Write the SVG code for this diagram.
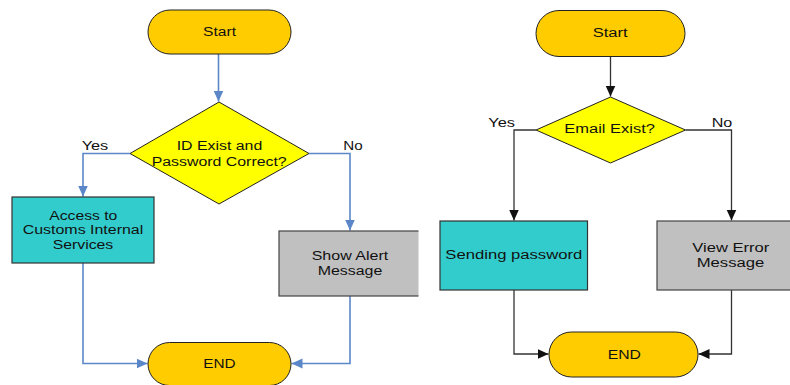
<svg xmlns="http://www.w3.org/2000/svg" width="790" height="385" viewBox="0 0 790 385">
  <style>
    .term { fill: #FFCC00; stroke: #222; stroke-width: 1; }
    .dec { fill: #FFFF00; stroke: #222; stroke-width: 1; }
    .proc-ok { fill: #33CCCC; stroke: #333; stroke-width: 1.2; }
    .proc-err { fill: #C0C0C0; stroke: #444; stroke-width: 1.2; }
    .lbl { font-family: "Liberation Sans", Arial, sans-serif; font-size: 12.5px; fill: #111; }
    .blue { fill: none; stroke: #5B87C9; stroke-width: 1.6; }
    .dark { fill: none; stroke: #333; stroke-width: 1.3; }
  </style>
  <defs>
    <marker id="arrBlue" markerUnits="userSpaceOnUse" markerWidth="12" markerHeight="12" viewBox="0 0 12 12" refX="11" refY="6" orient="auto">
      <path d="M0,1 L11,6 L0,11 Z" fill="#5B87C9"/>
    </marker>
    <marker id="arrDark" markerUnits="userSpaceOnUse" markerWidth="12" markerHeight="12" viewBox="0 0 12 12" refX="11" refY="6" orient="auto">
      <path d="M0,1 L11,6 L0,11 Z" fill="#111"/>
    </marker>
    <clipPath id="leftPanel">
      <rect x="0" y="0" width="418.5" height="385"/>
    </clipPath>
  </defs>

  <!-- Login flow connectors -->
  <g id="connectors-login">
    <path class="blue" d="M218.5,54 L218.5,101.5" marker-end="url(#arrBlue)"/>
    <path class="blue" d="M130,153.5 L83,153.5 L83,196.5" marker-end="url(#arrBlue)"/>
    <path class="blue" d="M309,153.5 L350,153.5 L350,230.5" marker-end="url(#arrBlue)"/>
    <path class="blue" d="M83,263 L83,363.5 L147.5,363.5" marker-end="url(#arrBlue)"/>
    <path class="blue" d="M350,296 L350,363.5 L291.5,363.5" marker-end="url(#arrBlue)"/>
    <text class="lbl" x="81.7" y="150" textLength="26.6" lengthAdjust="spacingAndGlyphs">Yes</text>
    <text class="lbl" x="343.3" y="150" textLength="19.4" lengthAdjust="spacingAndGlyphs">No</text>
  </g>

  <!-- Login flow nodes -->
  <g id="login-start">
    <rect class="term" x="148" y="10" width="143" height="44" rx="22"/>
    <text class="lbl" x="203" y="36" textLength="33" lengthAdjust="spacingAndGlyphs">Start</text>
  </g>
  <g id="login-check">
    <polygon class="dec" points="219,102 309,153.5 219,204 130,153.5"/>
    <text class="lbl" x="176.7" y="150" textLength="85.6" lengthAdjust="spacingAndGlyphs">ID Exist and</text>
    <text class="lbl" x="151.7" y="165.6" textLength="135" lengthAdjust="spacingAndGlyphs">Password Correct?</text>
  </g>
  <g id="login-access">
    <rect class="proc-ok" x="12" y="197" width="142" height="66"/>
    <text class="lbl" x="49.3" y="219.5" textLength="68" lengthAdjust="spacingAndGlyphs">Access to</text>
    <text class="lbl" x="22.7" y="234" textLength="120.6" lengthAdjust="spacingAndGlyphs">Customs Internal</text>
    <text class="lbl" x="52.7" y="248.5" textLength="60.6" lengthAdjust="spacingAndGlyphs">Services</text>
  </g>
  <g id="login-alert" clip-path="url(#leftPanel)">
    <rect class="proc-err" x="279" y="231" width="150" height="65"/>
    <text class="lbl" x="311.7" y="260" textLength="76.6" lengthAdjust="spacingAndGlyphs">Show Alert</text>
    <text class="lbl" x="317.7" y="274.5" textLength="64.6" lengthAdjust="spacingAndGlyphs">Message</text>
  </g>
  <g id="login-end">
    <rect class="term" x="148" y="342.5" width="143" height="43" rx="21.5"/>
    <text class="lbl" x="203.3" y="368.3" textLength="32.4" lengthAdjust="spacingAndGlyphs">END</text>
  </g>

  <!-- Password recovery connectors -->
  <g id="connectors-recovery">
    <path class="dark" d="M610.5,57 L610.5,96.5" marker-end="url(#arrDark)"/>
    <path class="dark" d="M536,130 L514,130 L514,220.5" marker-end="url(#arrDark)"/>
    <path class="dark" d="M685.5,130 L731.5,130 L731.5,220.5" marker-end="url(#arrDark)"/>
    <path class="dark" d="M514,290 L514,354 L548.5,354" marker-end="url(#arrDark)"/>
    <path class="dark" d="M731.5,290 L731.5,354 L698.5,354" marker-end="url(#arrDark)"/>
    <text class="lbl" x="488.3" y="126.7" textLength="26.7" lengthAdjust="spacingAndGlyphs">Yes</text>
    <text class="lbl" x="711.7" y="126.7" textLength="20.6" lengthAdjust="spacingAndGlyphs">No</text>
  </g>

  <!-- Password recovery nodes -->
  <g id="recovery-start">
    <rect class="term" x="536" y="10.5" width="149" height="46" rx="23"/>
    <text class="lbl" x="592.7" y="37.3" textLength="35" lengthAdjust="spacingAndGlyphs">Start</text>
  </g>
  <g id="recovery-check">
    <polygon class="dec" points="610.5,97 685.5,130 610.5,163 536,130"/>
    <text class="lbl" x="564.3" y="133.3" textLength="90.7" lengthAdjust="spacingAndGlyphs">Email Exist?</text>
  </g>
  <g id="recovery-send">
    <rect class="proc-ok" x="440" y="221" width="147.5" height="69"/>
    <text class="lbl" x="445.3" y="258.7" textLength="137" lengthAdjust="spacingAndGlyphs">Sending password</text>
  </g>
  <g id="recovery-error">
    <rect class="proc-err" x="657" y="221" width="150" height="69"/>
    <text class="lbl" x="692.3" y="252.3" textLength="77" lengthAdjust="spacingAndGlyphs">View Error</text>
    <text class="lbl" x="696.7" y="266.7" textLength="67.6" lengthAdjust="spacingAndGlyphs">Message</text>
  </g>
  <g id="recovery-end">
    <rect class="term" x="549" y="332" width="149" height="45" rx="22.5"/>
    <text class="lbl" x="607.7" y="359" textLength="33.3" lengthAdjust="spacingAndGlyphs">END</text>
  </g>
</svg>
